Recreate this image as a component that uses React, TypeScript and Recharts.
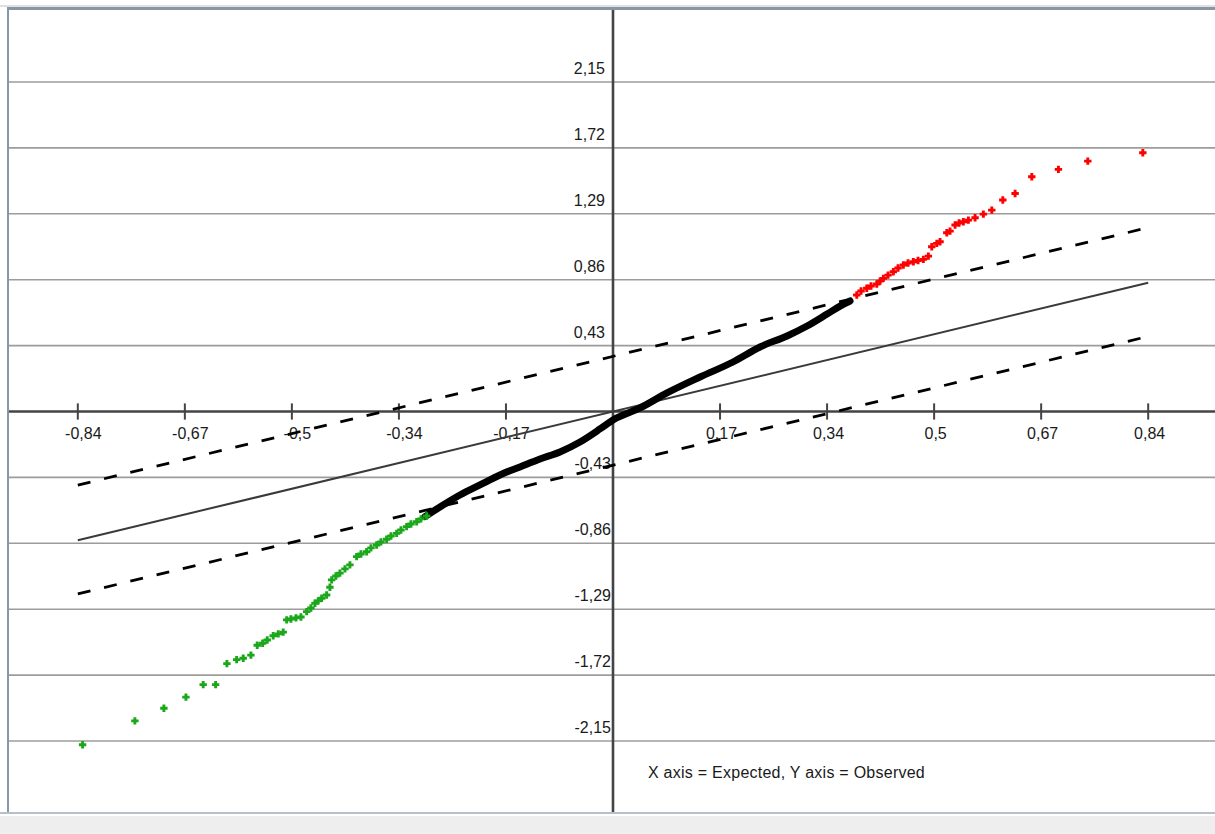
import React from 'react';
import { ScatterChart, Scatter, XAxis, YAxis, ReferenceLine } from 'recharts';

// tick values (labels are these rounded to 2 decimals, comma separator)
const xTicks = [-0.84, -0.672, -0.504, -0.336, -0.168, 0.168, 0.336, 0.504, 0.672, 0.84];
const yTicks = [-2.15, -1.72, -1.29, -0.86, -0.43, 0.43, 0.86, 1.29, 1.72, 2.15];

// expected line and confidence band
const refLine = [{ x: -0.84, y: -0.84 }, { x: 0.84, y: 0.84 }];
const upperBand = [{ x: -0.84, y: -0.48 }, { x: 0.84, y: 1.2 }];
const lowerBand = [{ x: -0.84, y: -1.19 }, { x: 0.84, y: 0.49 }];

// lower tail (green)
const lowerTail = [
    { x: -0.8325, y: -2.175 }, { x: -0.7504, y: -2.019 }, { x: -0.7049, y: -1.936 }, { x: -0.6703, y: -1.864 },
    { x: -0.6432, y: -1.782 }, { x: -0.6237, y: -1.782 }, { x: -0.606, y: -1.645 }, { x: -0.5907, y: -1.619 },
    { x: -0.5804, y: -1.61 }, { x: -0.5683, y: -1.59 }, { x: -0.5584, y: -1.525 }, { x: -0.5499, y: -1.512 },
    { x: -0.5427, y: -1.491 }, { x: -0.5333, y: -1.463 }, { x: -0.5254, y: -1.451 }, { x: -0.5176, y: -1.44 },
    { x: -0.5122, y: -1.36 }, { x: -0.5055, y: -1.354 }, { x: -0.4976, y: -1.347 }, { x: -0.4898, y: -1.341 },
    { x: -0.4808, y: -1.306 }, { x: -0.4741, y: -1.282 }, { x: -0.4678, y: -1.251 }, { x: -0.4627, y: -1.236 },
    { x: -0.4573, y: -1.219 }, { x: -0.4495, y: -1.197 }, { x: -0.4443, y: -1.147 }, { x: -0.4416, y: -1.099 },
    { x: -0.4349, y: -1.073 }, { x: -0.4286, y: -1.055 }, { x: -0.4207, y: -1.027 }, { x: -0.4129, y: -1.001 },
    { x: -0.4024, y: -0.947 }, { x: -0.3956, y: -0.93 }, { x: -0.3867, y: -0.915 }, { x: -0.3799, y: -0.89 },
    { x: -0.371, y: -0.871 }, { x: -0.3642, y: -0.851 }, { x: -0.3553, y: -0.834 }, { x: -0.3485, y: -0.812 },
    { x: -0.3396, y: -0.795 }, { x: -0.3328, y: -0.773 }, { x: -0.3239, y: -0.751 }, { x: -0.3171, y: -0.734 },
    { x: -0.3082, y: -0.719 }, { x: -0.3014, y: -0.701 }, { x: -0.2925, y: -0.682 },
];

// middle (black)
const middle = [
    { x: -0.2951, y: -0.686 }, { x: -0.2716, y: -0.623 }, { x: -0.2402, y: -0.545 }, { x: -0.2088, y: -0.479 },
    { x: -0.1774, y: -0.414 }, { x: -0.146, y: -0.362 }, { x: -0.1146, y: -0.31 }, { x: -0.0832, y: -0.264 },
    { x: -0.0518, y: -0.199 }, { x: -0.0204, y: -0.114 }, { x: 0, y: -0.055 }, { x: 0.0424, y: 0.023 },
    { x: 0.0848, y: 0.121 }, { x: 0.1366, y: 0.225 }, { x: 0.1884, y: 0.323 }, { x: 0.2308, y: 0.421 },
    { x: 0.2732, y: 0.493 }, { x: 0.3046, y: 0.558 }, { x: 0.336, y: 0.636 }, { x: 0.3564, y: 0.688 },
    { x: 0.3721, y: 0.721 },
];

// upper tail (red)
const upperTail = [
    { x: 0.3826, y: 0.76 }, { x: 0.3893, y: 0.786 }, { x: 0.3983, y: 0.804 }, { x: 0.405, y: 0.819 },
    { x: 0.414, y: 0.832 }, { x: 0.4192, y: 0.851 }, { x: 0.4243, y: 0.869 }, { x: 0.4317, y: 0.89 },
    { x: 0.44, y: 0.912 }, { x: 0.4474, y: 0.936 }, { x: 0.4557, y: 0.956 }, { x: 0.4631, y: 0.969 },
    { x: 0.4714, y: 0.977 }, { x: 0.4788, y: 0.985 }, { x: 0.4871, y: 0.993 }, { x: 0.495, y: 1.014 },
    { x: 0.5003, y: 1.075 }, { x: 0.5082, y: 1.097 }, { x: 0.5133, y: 1.108 }, { x: 0.5239, y: 1.166 },
    { x: 0.529, y: 1.177 }, { x: 0.5369, y: 1.217 }, { x: 0.5432, y: 1.23 }, { x: 0.5499, y: 1.238 },
    { x: 0.5578, y: 1.249 }, { x: 0.5683, y: 1.264 }, { x: 0.5813, y: 1.288 }, { x: 0.5945, y: 1.314 },
    { x: 0.6118, y: 1.38 }, { x: 0.6311, y: 1.423 }, { x: 0.6573, y: 1.532 }, { x: 0.6991, y: 1.58 },
    { x: 0.7452, y: 1.634 }, { x: 0.8316, y: 1.688 },
];

const FONT = '"Liberation Sans", Arial, sans-serif';
const fmt = (v: number) => String(Number(v.toFixed(2))).replace('.', ',');

const cross = (color: string) => (p: any) => (
    <path
        d={`M${p.cx - 3.7},${p.cy}h7.4M${p.cx},${p.cy - 3.7}v7.4`}
        stroke={color}
        strokeWidth={2.9}
        fill="none"
    />
);

const xLabel = (v: number) => (p: any) => {
    const vb = p.viewBox;
    return (
        <text x={vb.x + (v < 0 ? 5.5 : 1.5)} y={vb.y + vb.height / 2 + 27} textAnchor="middle"
            fontFamily={FONT} fontSize={16} fill="#1a1a1a">{fmt(v)}</text>
    );
};

const yLabel = (v: number) => (p: any) => {
    const vb = p.viewBox;
    return (
        <text x={vb.x + vb.width - 8 + (v < 0 ? 6 : 0)} y={vb.y - 8} textAnchor="end"
            fontFamily={FONT} fontSize={16} fill="#1a1a1a">{fmt(v)}</text>
    );
};

export default function App() {
    return (
        <div style={{ position: 'relative', width: 1215, height: 834, overflow: 'hidden', background: '#fff' }}>
            <style>{'body{margin:0}'}</style>
            <ScatterChart width={1230} height={834} margin={{ top: 10, left: 9, right: 13, bottom: 21 }}>
                <XAxis type="number" dataKey="x" domain={[-0.948, 0.948]} hide allowDataOverflow />
                <YAxis type="number" dataKey="y" domain={[-2.62, 2.62]} hide allowDataOverflow />

                {yTicks.map((t) => (
                    <ReferenceLine key={`g${t}`} y={t} stroke="#9c9c9c" strokeWidth={1.6} />
                ))}
                <ReferenceLine y={0} stroke="#444" strokeWidth={2.6} />
                <ReferenceLine x={0} stroke="#444" strokeWidth={2.6} />

                {xTicks.map((t) => (
                    <ReferenceLine key={`xt${t}`} segment={[{ x: t, y: -0.053 }, { x: t, y: 0.053 }]}
                        stroke="#444" strokeWidth={2} label={xLabel(t)} />
                ))}
                {yTicks.map((t) => (
                    <ReferenceLine key={`yt${t}`} segment={[{ x: -0.02, y: t }, { x: 0, y: t }]}
                        stroke="none" label={yLabel(t)} />
                ))}

                <ReferenceLine segment={refLine} stroke="#3a3a3a" strokeWidth={2} />
                <ReferenceLine segment={upperBand} stroke="#000" strokeWidth={2.8} strokeDasharray="13 14" />
                <ReferenceLine segment={lowerBand} stroke="#000" strokeWidth={2.8} strokeDasharray="13 14" />

                <Scatter data={middle} isAnimationActive={false} lineJointType="monotoneX"
                    line={{ stroke: '#000', strokeWidth: 7, strokeLinejoin: 'round', strokeLinecap: 'round' }}
                    shape={() => <g />} />
                <Scatter data={lowerTail} isAnimationActive={false} shape={cross('#1aa81a')} />
                <Scatter data={upperTail} isAnimationActive={false} shape={cross('#ff0000')} />
            </ScatterChart>

            <svg width={1215} height={834} style={{ position: 'absolute', left: 0, top: 0, pointerEvents: 'none' }}>
                <text x={648} y={777.5} fontFamily={FONT} fontSize={16} letterSpacing={0.25} fill="#1a1a1a">
                    X axis = Expected, Y axis = Observed
                </text>
            </svg>

            {/* panel frame */}
            <div style={{ position: 'absolute', left: 0, top: 5, width: 1215, height: 2, background: '#e0e0e0' }} />
            <div style={{ position: 'absolute', left: 7, top: 7, width: 1208, height: 3, background: '#8797a7' }} />
            <div style={{ position: 'absolute', left: 7, top: 7, width: 2, height: 807, background: '#8797a7' }} />
            <div style={{ position: 'absolute', left: 0, top: 812, width: 1215, height: 2, background: '#b4c0cc' }} />
            <div style={{ position: 'absolute', left: 0, top: 814, width: 1215, height: 2, background: '#fff' }} />
            <div style={{ position: 'absolute', left: 0, top: 816, width: 1215, height: 18, background: '#eeeeee' }} />
        </div>
    );
}
